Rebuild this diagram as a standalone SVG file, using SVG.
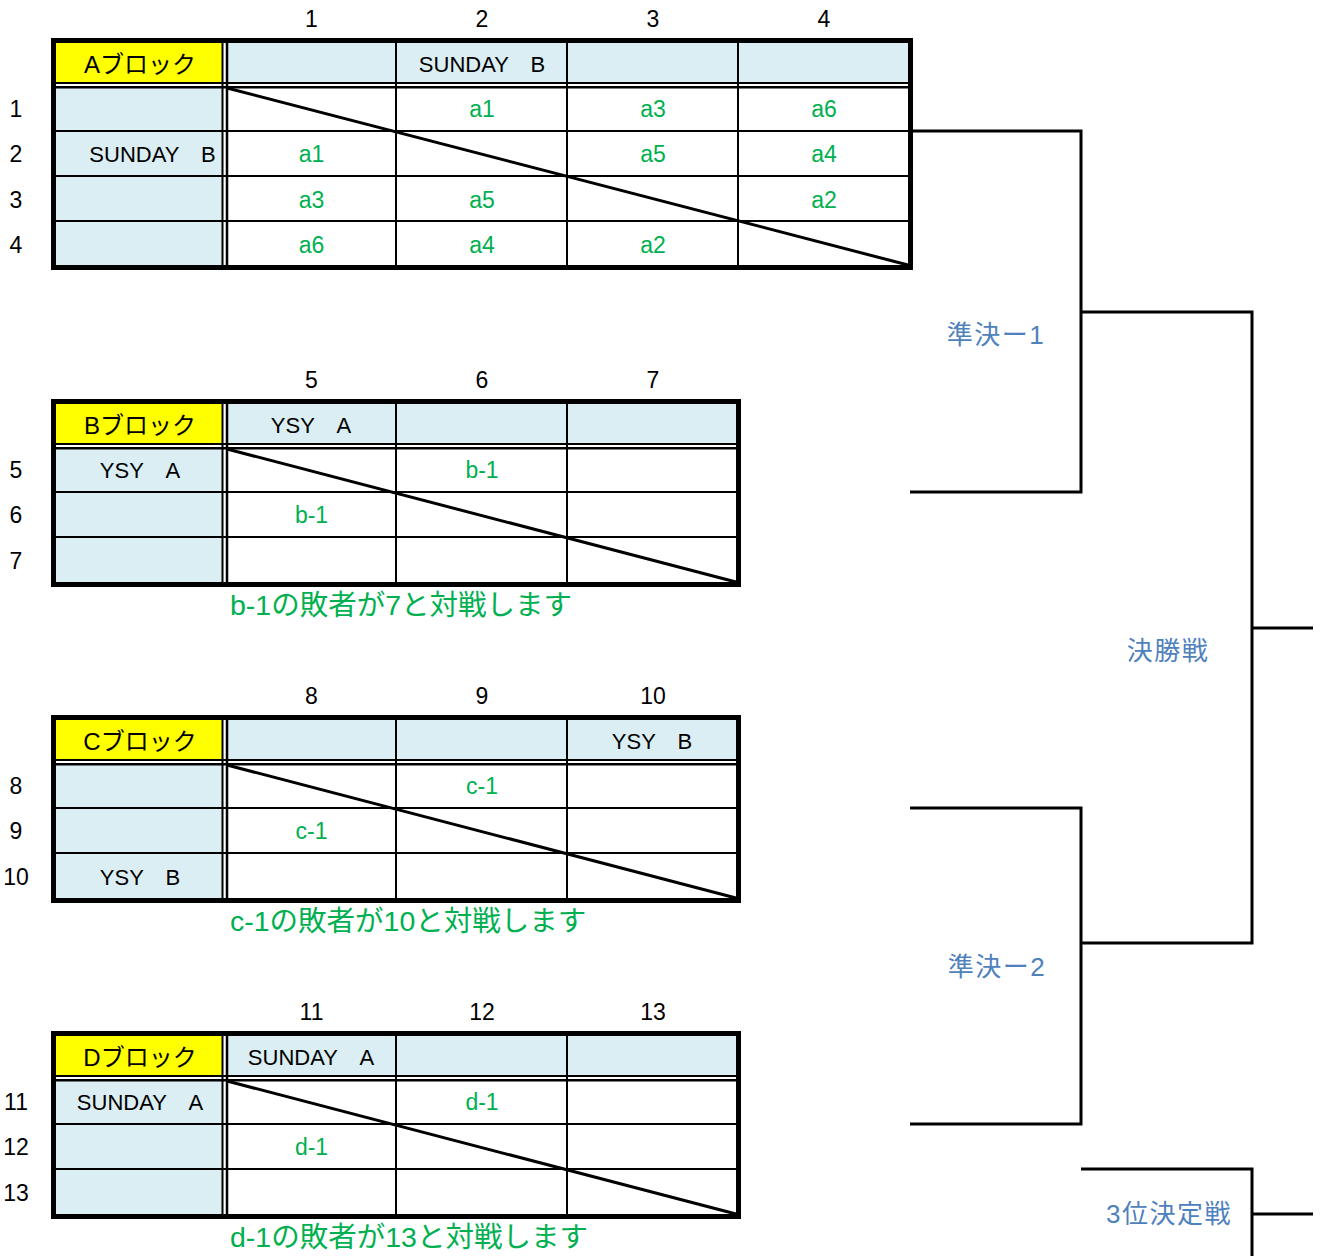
<svg xmlns="http://www.w3.org/2000/svg" width="1326" height="1256" viewBox="0 0 1326 1256">
<style>
text{font-family:"Liberation Sans","Noto Sans CJK JP",sans-serif;text-anchor:middle;dominant-baseline:central;fill:#000}
.num{font-size:23px}
.name{font-size:22px}
.blk{font-size:24px}
.res{font-size:23px;fill:#00B050}
.note{font-size:28.5px;fill:#00B050;text-anchor:start}
.lbl{font-size:26px;fill:#4F81BD;letter-spacing:1.5px}
.yel{fill:#FFFF00}
.blu{fill:#DAEEF3}
.g{stroke:#000;stroke-width:2;fill:none}
.d2{stroke:#000;stroke-width:2.5;fill:none}
.diag{stroke:#000;stroke-width:3;fill:none}
.out{stroke:#000;stroke-width:5;fill:none}
.con{stroke:#000;stroke-width:3;fill:none}
</style>
<rect width="1326" height="1256" fill="#fff"/>

<g id="block-a">
<rect class="yel" x="56" y="43" width="166" height="40"/>
<rect class="blu" x="227" y="43" width="681" height="40"/>
<rect class="blu" x="56" y="87" width="166" height="178"/>
<path class="g" d="M51,131H913M51,176H913M51,221H913M396,38V270M567,38V270M738,38V270M51,83H913M222.5,38V270"/>
<path class="d2" d="M51,87.2H913M227,38V270"/>
<path class="diag" d="M227,88L908,265"/>
<rect class="out" x="53.5" y="40.5" width="857" height="227"/>
<text class="num" x="311.5" y="19">1</text><text class="num" x="482" y="19">2</text><text class="num" x="653" y="19">3</text><text class="num" x="824" y="19">4</text>
<text class="num" x="16" y="109">1</text><text class="num" x="16" y="154">2</text><text class="num" x="16" y="200">3</text><text class="num" x="16" y="245">4</text>
<text class="blk" x="140" y="64">Aブロック</text>
<text class="name" x="482" y="64">SUNDAY　B</text>
<text class="name" x="152.5" y="154">SUNDAY　B</text>
<text class="res" x="482" y="109">a1</text><text class="res" x="653" y="109">a3</text><text class="res" x="824" y="109">a6</text>
<text class="res" x="311.5" y="154">a1</text><text class="res" x="653" y="154">a5</text><text class="res" x="824" y="154">a4</text>
<text class="res" x="311.5" y="200">a3</text><text class="res" x="482" y="200">a5</text><text class="res" x="824" y="200">a2</text>
<text class="res" x="311.5" y="245">a6</text><text class="res" x="482" y="245">a4</text><text class="res" x="653" y="245">a2</text>
</g>

<g id="block-b" transform="translate(0,361)">
<rect class="yel" x="56" y="43" width="166" height="40"/>
<rect class="blu" x="227" y="43" width="509" height="40"/>
<rect class="blu" x="56" y="87" width="166" height="134"/>
<path class="g" d="M51,131H741M51,176H741M396,38V226M567,38V226M51,83H741M222.5,38V226"/>
<path class="d2" d="M51,87.2H741M227,38V226"/>
<path class="diag" d="M227,88L736,221"/>
<rect class="out" x="53.5" y="40.5" width="685" height="183"/>
<text class="num" x="311.5" y="19">5</text><text class="num" x="482" y="19">6</text><text class="num" x="653" y="19">7</text>
<text class="num" x="16" y="109">5</text><text class="num" x="16" y="154">6</text><text class="num" x="16" y="200">7</text>
<text class="blk" x="140" y="64">Bブロック</text>
<text class="name" x="311" y="64">YSY　A</text>
<text class="name" x="140" y="109">YSY　A</text>
<text class="res" x="482" y="109">b-1</text>
<text class="res" x="311.5" y="154">b-1</text>
<text class="note" x="230" y="244">b-1の敗者が7と対戦します</text>
</g>

<g id="block-c" transform="translate(0,677)">
<rect class="yel" x="56" y="43" width="166" height="40"/>
<rect class="blu" x="227" y="43" width="509" height="40"/>
<rect class="blu" x="56" y="87" width="166" height="134"/>
<path class="g" d="M51,131H741M51,176H741M396,38V226M567,38V226M51,83H741M222.5,38V226"/>
<path class="d2" d="M51,87.2H741M227,38V226"/>
<path class="diag" d="M227,88L736,221"/>
<rect class="out" x="53.5" y="40.5" width="685" height="183"/>
<text class="num" x="311.5" y="19">8</text><text class="num" x="482" y="19">9</text><text class="num" x="653" y="19">10</text>
<text class="num" x="16" y="109">8</text><text class="num" x="16" y="154">9</text><text class="num" x="16" y="200">10</text>
<text class="blk" x="140" y="64">Cブロック</text>
<text class="name" x="652" y="64">YSY　B</text>
<text class="name" x="140" y="200">YSY　B</text>
<text class="res" x="482" y="109">c-1</text>
<text class="res" x="311.5" y="154">c-1</text>
<text class="note" x="230" y="244">c-1の敗者が10と対戦します</text>
</g>

<g id="block-d" transform="translate(0,993)">
<rect class="yel" x="56" y="43" width="166" height="40"/>
<rect class="blu" x="227" y="43" width="509" height="40"/>
<rect class="blu" x="56" y="87" width="166" height="134"/>
<path class="g" d="M51,131H741M51,176H741M396,38V226M567,38V226M51,83H741M222.5,38V226"/>
<path class="d2" d="M51,87.2H741M227,38V226"/>
<path class="diag" d="M227,88L736,221"/>
<rect class="out" x="53.5" y="40.5" width="685" height="183"/>
<text class="num" x="311.5" y="19">11</text><text class="num" x="482" y="19">12</text><text class="num" x="653" y="19">13</text>
<text class="num" x="16" y="109">11</text><text class="num" x="16" y="154">12</text><text class="num" x="16" y="200">13</text>
<text class="blk" x="140" y="64">Dブロック</text>
<text class="name" x="311" y="64">SUNDAY　A</text>
<text class="name" x="140" y="109">SUNDAY　A</text>
<text class="res" x="482" y="109">d-1</text>
<text class="res" x="311.5" y="154">d-1</text>
<text class="note" x="230" y="244">d-1の敗者が13と対戦します</text>
</g>

<g id="connectors">
<path class="con" d="M913,131H1081V492H910"/>
<path class="con" d="M1081,312H1252V943H1081"/>
<path class="con" d="M1252,628H1313"/>
<path class="con" d="M910,808H1081V1124H910"/>
<path class="con" d="M1081,1169H1252V1260"/>
<path class="con" d="M1252,1214H1313"/>
</g>

<g id="label-semi1"><text class="lbl" x="996" y="335">準決ー1</text></g>
<g id="label-final"><text class="lbl" x="1168" y="651">決勝戦</text></g>
<g id="label-semi2"><text class="lbl" x="997" y="967">準決ー2</text></g>
<g id="label-third"><text class="lbl" x="1169" y="1214">3位決定戦</text></g>
</svg>
